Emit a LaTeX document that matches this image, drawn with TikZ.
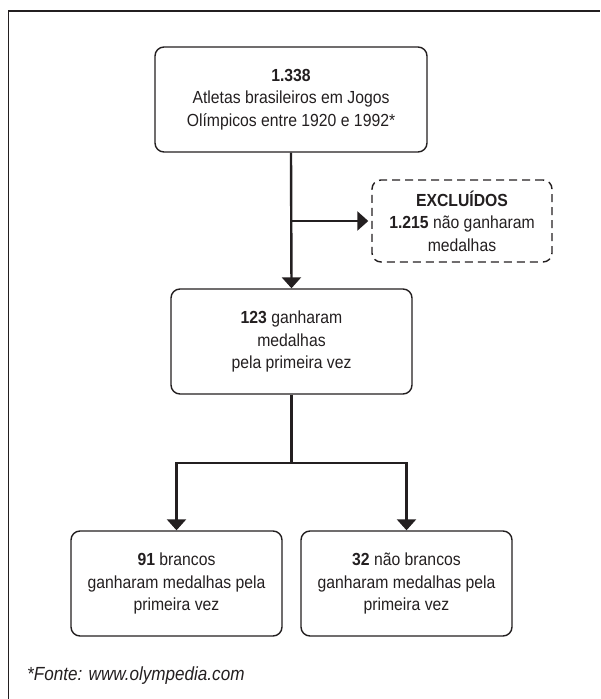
\documentclass[tikz,border=0pt]{standalone}
\usepackage{fontspec}
\setmainfont{Liberation Sans}[FakeStretch=0.9]
\usepackage{tikz}
\usetikzlibrary{positioning,arrows.meta,calc}
\definecolor{ink}{HTML}{231F20}
\tikzstyle{every node}=[font=\fontsize{17.5}{22.5}\selectfont,text=ink,align=center]
\tikzstyle{box} = [draw=ink,line width=1.4pt,rounded corners=9pt,inner sep=0pt,minimum height=105pt]
\tikzstyle{dashbox} = [box,dash pattern=on 8pt off 5pt,minimum height=82pt,minimum width=180pt]
\tikzstyle{arrow} = [draw=ink,line width=2.4pt,-{Triangle[width=19pt,length=11pt]}]

\begin{document}
\begin{tikzpicture}[x=1pt,y=-1pt]
\useasboundingbox (0,0) rectangle (600,699);

% frame
\draw[ink,line width=1.3pt] (8.5,699) -- (8.5,11) -- (600,11);

% boxes
\node[box,minimum width=272pt] (total) at (291,99.5) {\textbf{1.338}\\Atletas brasileiros em Jogos\\Olímpicos entre 1920 e 1992*};
\node[dashbox] (excl) at (462,221) {\textbf{EXCLUÍDOS}\\\textbf{1.215} não ganharam\\medalhas};
\node[box,minimum width=241pt] (medal) at (291.5,341.5) {\textbf{123} ganharam\\medalhas\\pela primeira vez};
\node[box,minimum width=211pt] (white) at (176.5,583.5) {\textbf{91} brancos\\ganharam medalhas pela\\primeira vez};
\node[box,minimum width=211pt] (nonwhite) at (406.5,583.5) {\textbf{32} não brancos\\ganharam medalhas pela\\primeira vez};

% source
\node[anchor=west,inner sep=0pt,font=\fontsize{19}{22}\selectfont\itshape] (source) at (27,676) {*Fonte: www.olympedia.com};

% arrows
\draw[arrow] (total.south) -- (medal.north);
\draw[arrow,shorten >=3pt] (total.south |- excl.west) -- (excl.west);
\coordinate (fork) at ($(medal.south)+(0,68)$);
\draw[ink,line width=2.4pt] (medal.south) -- (fork);
\draw[arrow] (fork) -| (white.north);
\draw[arrow] (fork) -| (nonwhite.north);

\end{tikzpicture}
\end{document}
